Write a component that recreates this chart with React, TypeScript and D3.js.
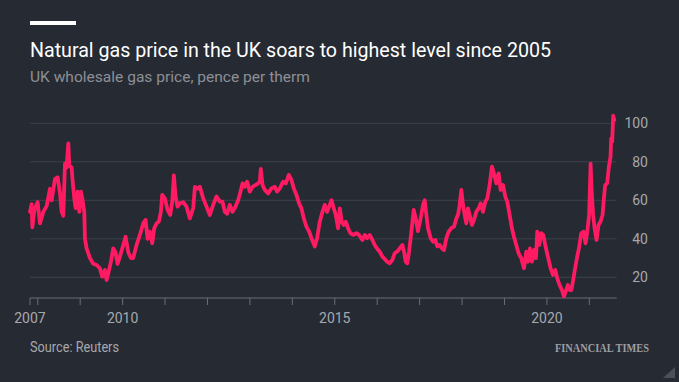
import React from "react";
import * as d3 from "d3";

// Decimal-year dates and UK wholesale gas price (pence per therm)
const dates: number[] = [
  2007.817, 2007.856, 2007.872, 2007.919, 2007.974, 2007.997, 2008.052, 2008.131, 2008.209, 2008.288,
  2008.327, 2008.406, 2008.468, 2008.523, 2008.563, 2008.602, 2008.641, 2008.68, 2008.72, 2008.743,
  2008.798, 2008.822, 2008.861, 2008.892, 2008.939, 2008.979, 2009.018, 2009.049, 2009.096, 2009.112,
  2009.151, 2009.23, 2009.308, 2009.387, 2009.465, 2009.52, 2009.583, 2009.622, 2009.662, 2009.724,
  2009.779, 2009.834, 2009.881, 2009.936, 2010.015, 2010.07, 2010.133, 2010.195, 2010.25, 2010.329,
  2010.407, 2010.486, 2010.541, 2010.588, 2010.643, 2010.698, 2010.745, 2010.8, 2010.855, 2010.902,
  2010.933, 2010.996, 2011.059, 2011.122, 2011.169, 2011.208, 2011.247, 2011.295, 2011.35, 2011.428,
  2011.507, 2011.585, 2011.664, 2011.703, 2011.766, 2011.821, 2011.899, 2011.978, 2012.056, 2012.135,
  2012.213, 2012.292, 2012.354, 2012.409, 2012.464, 2012.527, 2012.59, 2012.645, 2012.723, 2012.778,
  2012.826, 2012.88, 2012.935, 2012.998, 2013.061, 2013.139, 2013.194, 2013.234, 2013.257, 2013.297,
  2013.352, 2013.43, 2013.508, 2013.587, 2013.642, 2013.705, 2013.783, 2013.846, 2013.917, 2013.979,
  2014.034, 2014.097, 2014.16, 2014.215, 2014.27, 2014.333, 2014.396, 2014.451, 2014.529, 2014.584,
  2014.647, 2014.71, 2014.765, 2014.82, 2014.867, 2014.922, 2014.977, 2015.024, 2015.079, 2015.118,
  2015.165, 2015.212, 2015.259, 2015.314, 2015.369, 2015.432, 2015.51, 2015.573, 2015.652, 2015.707,
  2015.762, 2015.824, 2015.887, 2015.942, 2015.997, 2016.06, 2016.123, 2016.178, 2016.233, 2016.295,
  2016.358, 2016.413, 2016.468, 2016.531, 2016.594, 2016.633, 2016.672, 2016.711, 2016.751, 2016.806,
  2016.861, 2016.908, 2016.96, 2017.025, 2017.08, 2017.12, 2017.159, 2017.198, 2017.261, 2017.316,
  2017.371, 2017.418, 2017.473, 2017.528, 2017.575, 2017.63, 2017.685, 2017.748, 2017.81, 2017.865,
  2017.905, 2017.944, 2017.983, 2018.022, 2018.062, 2018.101, 2018.14, 2018.179, 2018.234, 2018.281,
  2018.336, 2018.391, 2018.438, 2018.493, 2018.548, 2018.595, 2018.65, 2018.705, 2018.752, 2018.807,
  2018.862, 2018.909, 2018.964, 2019.019, 2019.066, 2019.121, 2019.176, 2019.223, 2019.278, 2019.333,
  2019.396, 2019.459, 2019.514, 2019.553, 2019.6, 2019.647, 2019.695, 2019.742, 2019.773, 2019.82,
  2019.867, 2019.914, 2019.961, 2020.024, 2020.087, 2020.142, 2020.197, 2020.244, 2020.299, 2020.354,
  2020.401, 2020.456, 2020.495, 2020.535, 2020.574, 2020.613, 2020.652, 2020.707, 2020.754, 2020.809,
  2020.864, 2020.911, 2020.951, 2020.995, 2021.03, 2021.055, 2021.09, 2021.123, 2021.17, 2021.217,
  2021.265, 2021.312, 2021.343, 2021.374, 2021.421, 2021.461, 2021.5, 2021.516, 2021.539, 2021.563,
  2021.586,
];

const prices: number[] = [
  54, 58, 46, 55, 58, 59, 48, 54, 57, 66,
  60, 71, 72, 64, 54, 52, 79, 77, 89.6, 78,
  77, 70, 61, 56, 64.5, 54, 64.5, 61, 54, 40,
  35, 30, 27, 26.4, 24.7, 20.3, 23.8, 18.6, 22, 28,
  35, 33, 27, 30.7, 36.8, 41, 33, 30, 30, 36.8,
  42, 48, 49.8, 40, 43.7, 37.7, 45.5, 48, 49, 54,
  62.8, 61, 55, 52.4, 59.3, 73, 62, 56.7, 58.4, 59,
  56.7, 50.6, 56, 67, 66, 67, 61, 56.7, 52.4, 57.6,
  62, 59.3, 59.3, 54, 53, 57.6, 54, 56, 60, 64.5,
  68.8, 67, 69.7, 64.5, 67, 68, 68.8, 69.7, 76.3, 68,
  65.4, 63.6, 66.2, 67, 64.5, 66.2, 69.7, 68.8, 73.2, 70.6,
  66.2, 62.8, 58.4, 55.8, 50.6, 46.3, 43.7, 40.3, 36, 40.3,
  48.9, 54, 57.6, 54, 56.7, 60, 55.8, 52.4, 45.5, 55.8,
  48.9, 47.2, 48.9, 45.5, 42.9, 42, 42.9, 42, 39.4, 42,
  40.3, 42, 39.4, 36.8, 35, 33.3, 30.7, 29.5, 28.1, 27.3,
  29, 32.5, 33.3, 35, 36.8, 33.3, 28.1, 27.3, 33.3, 43.7,
  55, 50.6, 44, 50.6, 57.6, 60, 52.4, 45.5, 40.3, 38.5,
  39.4, 36, 36.8, 35, 34.2, 40.3, 43.7, 45.5, 46.3, 50.6,
  52.4, 57.6, 65.4, 57.6, 52.4, 48, 55.8, 52.4, 47.2, 49.8,
  54, 55.8, 58.4, 54, 59.3, 61, 68, 77.5, 74, 68.8,
  74, 65.4, 68, 61.9, 59.3, 52.4, 45.5, 41.1, 36.8, 32.5,
  29.9, 24.7, 33.3, 28.1, 35, 28.1, 34.2, 29.9, 43.7, 36.8,
  42.9, 42, 36.8, 30.7, 24.7, 21.2, 23.8, 19.5, 16, 13.4,
  10, 13.4, 16, 13.4, 13.4, 17.7, 23, 29.9, 35, 42.9,
  43.7, 37.7, 43.7, 52.4, 79, 64.5, 52.4, 45.5, 39.4, 47.2,
  49, 52.4, 61, 68, 68.8, 77.5, 82.7, 92.2, 90.5, 104,
  101.7,
];

const yTicks: number[] = [20, 40, 60, 80, 100];
const xTickYears: number[] = [2008, 2009, 2010, 2011, 2012, 2013, 2014, 2015, 2016, 2017, 2018, 2019, 2020, 2021];
const xLabelYears: number[] = [2010, 2015, 2020];
const startLabel = "2007";

const W = 679;
const H = 382;
const BG = "#262a33";
const LINE = "#ff1a62";
const SANS = "Roboto, 'Noto Sans', sans-serif";

export default function App() {
  const x = d3.scaleLinear().domain([2007.817, 2021.645]).range([30, 616.7]);
  const y = d3.scaleLinear().domain([0, 100]).range([315.8, 123.3]);
  const axisY = 298;

  const line = d3
    .line<number>()
    .x((_, i) => x(dates[i]))
    .y((d) => y(d))
    .curve(d3.curveLinear);

  const [x0, x1] = x.range();

  return (
    <svg
      width={W}
      height={H}
      viewBox={`0 0 ${W} ${H}`}
      style={{ position: "absolute", left: 0, top: 0, display: "block" }}
    >
      <rect x={0} y={0} width={W} height={H} fill={BG} />
      <rect x={30} y={21} width={46} height={4} fill="#ffffff" />
      <text
        x={30}
        y={57.3}
        fill="#ffffff"
        fontFamily={SANS}
        fontSize={20}
        textLength={521}
        lengthAdjust="spacingAndGlyphs"
      >
        Natural gas price in the UK soars to highest level since 2005
      </text>
      <text
        x={30}
        y={81.7}
        fill="#8d9096"
        fontFamily={SANS}
        fontSize={15}
        textLength={280}
        lengthAdjust="spacingAndGlyphs"
      >
        UK wholesale gas price, pence per therm
      </text>

      {/* gridlines */}
      {yTicks.map((t) => (
        <line key={`g${t}`} x1={x0} x2={x1} y1={y(t)} y2={y(t)} stroke="#3d414a" strokeWidth={1} />
      ))}
      {/* y labels */}
      {yTicks.map((t) => (
        <text
          key={`yl${t}`}
          x={648}
          y={y(t)}
          dy="0.36em"
          textAnchor="end"
          fill="#a6a8ad"
          fontFamily={SANS}
          fontSize={14}
        >
          {t}
        </text>
      ))}

      {/* x axis */}
      <line x1={x0} x2={x1} y1={axisY} y2={axisY} stroke="#6a6d74" strokeWidth={1} />
      <line x1={x0} x2={x0} y1={axisY} y2={axisY + 7} stroke="#6a6d74" strokeWidth={1} />
      {xTickYears.map((yr) => (
        <line key={`t${yr}`} x1={x(yr)} x2={x(yr)} y1={axisY} y2={axisY + 7} stroke="#6a6d74" strokeWidth={1} />
      ))}
      <text x={x0} y={323} textAnchor="middle" fill="#a6a8ad" fontFamily={SANS} fontSize={14}>
        {startLabel}
      </text>
      {xLabelYears.map((yr) => (
        <text key={`xl${yr}`} x={x(yr)} y={323} textAnchor="middle" fill="#a6a8ad" fontFamily={SANS} fontSize={14}>
          {yr}
        </text>
      ))}

      {/* data line */}
      <path
        d={line(prices) || ""}
        fill="none"
        stroke={LINE}
        strokeWidth={3.8}
        strokeLinejoin="round"
        strokeLinecap="round"
      />

      {/* footer */}
      <text
        x={30}
        y={352.3}
        fill="#a6a8ad"
        fontFamily={SANS}
        fontSize={15}
        textLength={89}
        lengthAdjust="spacingAndGlyphs"
      >
        Source: Reuters
      </text>
      <text
        x={649}
        y={351.7}
        textAnchor="end"
        fill="#9c9ea3"
        fontFamily="'Liberation Serif', 'DejaVu Serif', serif"
        fontSize={11.5}
        fontWeight={700}
        textLength={94}
        lengthAdjust="spacingAndGlyphs"
      >
        FINANCIAL TIMES
      </text>
      <polygon points="675,367 675,378 663,378" fill="#4b4f58" />
    </svg>
  );
}
